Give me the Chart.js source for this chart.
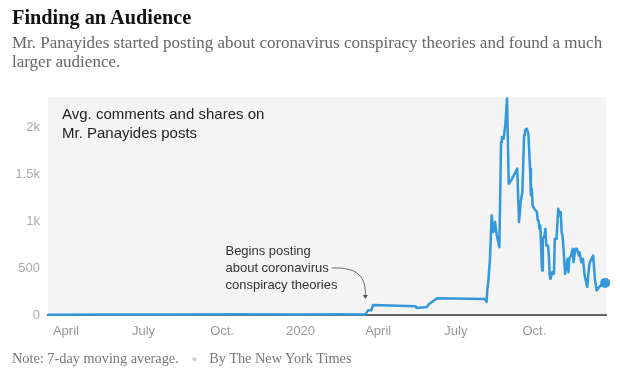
<!DOCTYPE html>
<html><head><meta charset="utf-8">
<script src="https://cdn.jsdelivr.net/npm/chart.js@4/dist/chart.umd.min.js"></script>
<style>
html,body{margin:0;padding:0;background:#fff;width:620px;height:379px;overflow:hidden;position:relative}
#wrap{position:absolute;left:0;top:0;width:620px;height:379px}
#title{position:absolute;left:12px;top:5px;font:bold 20.3px/24px "Liberation Serif",serif;color:#121212;white-space:nowrap}
#sub{position:absolute;left:12px;top:33px;font:17px/19px "Liberation Serif",serif;color:#666;white-space:nowrap}
#note{position:absolute;left:12px;top:350px;font:14.3px/16px "Liberation Serif",serif;color:#777;white-space:nowrap}
#note .dot{color:#ccc;margin:0 12px 0 13px;font-size:9px;vertical-align:1px}
</style></head><body>
<div id="wrap"><canvas id="c" width="620" height="379"></canvas></div>
<div id="title">Finding an Audience</div>
<div id="sub">Mr. Panayides started posting about coronavirus conspiracy theories and found a much<br>larger audience.</div>
<div id="note">Note: 7-day moving average.<span class="dot">●</span>By The New York Times</div>
<script>
// ---- data ----
const dates = [
 '2019-03-11','2019-05-20','2019-08-10','2019-10-20','2019-12-28','2020-02-18',
 '2020-03-17','2020-03-20','2020-03-24','2020-03-26','2020-05-15','2020-05-16','2020-05-28','2020-05-30',
 '2020-06-09','2020-08-04','2020-08-06','2020-08-07','2020-08-08','2020-08-10','2020-08-12','2020-08-14',
 '2020-08-16','2020-08-18','2020-08-21','2020-08-23','2020-08-24','2020-08-26','2020-08-28','2020-08-30',
 '2020-09-01','2020-09-05','2020-09-11','2020-09-13','2020-09-15','2020-09-17','2020-09-19','2020-09-20',
 '2020-09-22','2020-09-24','2020-09-26','2020-09-27','2020-09-28','2020-09-29','2020-10-01','2020-10-04',
 '2020-10-05','2020-10-06','2020-10-07','2020-10-08','2020-10-10','2020-10-11','2020-10-13','2020-10-14',
 '2020-10-15','2020-10-17','2020-10-18','2020-10-19','2020-10-20','2020-10-22','2020-10-24','2020-10-25',
 '2020-10-27','2020-10-29','2020-10-31','2020-11-01','2020-11-02','2020-11-03','2020-11-04','2020-11-06',
 '2020-11-09','2020-11-10','2020-11-11','2020-11-13','2020-11-15','2020-11-16','2020-11-18','2020-11-20',
 '2020-11-22','2020-11-23','2020-11-25','2020-11-27','2020-11-29','2020-12-02','2020-12-04','2020-12-05',
 '2020-12-07','2020-12-09','2020-12-11','2020-12-13','2020-12-16','2020-12-18','2020-12-20','2020-12-23'
];
const values = [
 4,6,5,8,6,7,
 5,50,50,107,93,75,86,111,
 179,171,139,278,350,600,1065,886,
 993,850,725,1850,1903,1885,2028,2313,
 1403,1457,1564,993,1207,1314,1921,1975,
 1992,1938,1564,1279,1349,1172,1135,1100,
 1011,1011,921,957,476,814,850,921,
 743,743,636,422,386,457,439,814,
 814,1135,1065,1100,886,850,743,439,
 600,457,600,636,707,564,707,707,
 636,671,564,600,422,300,500,564,
 600,636,386,262,300,315,332,343
];
const xTickDates  = ['2019-04-01','2019-07-01','2019-10-01','2020-01-01','2020-04-01','2020-07-01','2020-10-01'];
const xTickLabels = ['April','July','Oct.','2020','April','July','Oct.'];
const yTickValues = [0,500,1000,1500,2000];
const yTickLabels = ['0','500','1k','1.5k','2k'];
const xStart = '2019-03-11', xEnd = '2020-12-24';
const yMax = 2330;
const seriesLabel = ['Avg. comments and shares on','Mr. Panayides posts'];
const noteLines = ['Begins posting','about coronavirus','conspiracy theories'];
const noteAnchor = {date:'2019-10-05', value:684};
const arrowTip = {date:'2020-03-17', value:170};

// ---- helpers ----
const BASE = Date.UTC(2019,3,1);
function dayOf(s){const [y,m,d]=s.split('-').map(Number);return (Date.UTC(y,m-1,d)-BASE)/86400000;}
const BLUE = '#3398dc';
const SANS = '"Liberation Sans", Arial, sans-serif';

const bgPlugin = {
  id:'bg',
  beforeDraw(chart){
    const {ctx, chartArea:a} = chart;
    ctx.save(); ctx.fillStyle='#f4f4f4';
    ctx.fillRect(a.left,a.top,a.right-a.left,a.bottom-a.top);
    ctx.restore();
  }
};
const textPlugin = {
  id:'txt',
  afterDraw(chart){
    const {ctx, chartArea:a, scales:{x,y}} = chart;
    ctx.save();
    ctx.font = '15px '+SANS; ctx.fillStyle='#222'; ctx.textBaseline='middle'; ctx.textAlign='left';
    seriesLabel.forEach((t,i)=>ctx.fillText(t, a.left+14, a.top+18+i*19));
    ctx.font = '13px '+SANS; ctx.fillStyle='#333';
    const nx = x.getPixelForValue(dayOf(noteAnchor.date));
    const ny = y.getPixelForValue(noteAnchor.value);
    noteLines.forEach((t,i)=>ctx.fillText(t, nx, ny+i*17));
    const sx = nx + ctx.measureText(noteLines[1]).width + 3, sy = ny+17;
    const tx = x.getPixelForValue(dayOf(arrowTip.date)), ty = y.getPixelForValue(arrowTip.value);
    ctx.strokeStyle='#666'; ctx.lineWidth=1;
    ctx.beginPath(); ctx.moveTo(sx,sy);
    ctx.bezierCurveTo(sx+(tx-sx)*0.75, sy-1, tx+1, sy+8, tx, ty-2);
    ctx.stroke();
    ctx.fillStyle='#555';
    ctx.beginPath(); ctx.moveTo(tx-2.5,ty-4); ctx.lineTo(tx+2.5,ty-4); ctx.lineTo(tx,ty); ctx.closePath(); ctx.fill();
    ctx.restore();
  }
};

new Chart(document.getElementById('c'), {
  type:'line',
  data:{datasets:[{
    data: dates.map((d,i)=>({x:dayOf(d), y:values[i]})),
    borderColor:BLUE, backgroundColor:BLUE, borderWidth:2.5, tension:0,
    pointRadius: c=>c.dataIndex===values.length-1?5:0,
    pointHoverRadius:0, pointBorderWidth:0, pointBackgroundColor:BLUE,
    clip:false, borderJoinStyle:'round'
  }]},
  options:{
    responsive:false, animation:false, events:[],
    layout:{padding:{left:0,top:97,right:14,bottom:34}},
    plugins:{legend:{display:false},tooltip:{enabled:false}},
    scales:{
      x:{type:'linear', min:dayOf(xStart), max:dayOf(xEnd),
         afterBuildTicks:s=>{s.ticks=xTickDates.map(d=>({value:dayOf(d)}));},
         afterFit:s=>{s.height=30;},
         grid:{display:false, drawTicks:false},
         border:{display:true,color:'#666',width:2},
         ticks:{autoSkip:false,maxRotation:0,padding:9,color:'#999',font:{family:SANS,size:13},
                callback:(v,i)=>xTickLabels[i]}},
      y:{min:0,max:yMax,
         afterBuildTicks:s=>{s.ticks=yTickValues.map(v=>({value:v}));},
         afterFit:s=>{s.width=48;},
         grid:{display:false, drawTicks:false},
         border:{display:false},
         ticks:{padding:8,color:'#aaa',font:{family:SANS,size:13},
                callback:(v,i)=>yTickLabels[i]}}
    }
  },
  plugins:[bgPlugin,textPlugin]
});
</script>
</body></html>
